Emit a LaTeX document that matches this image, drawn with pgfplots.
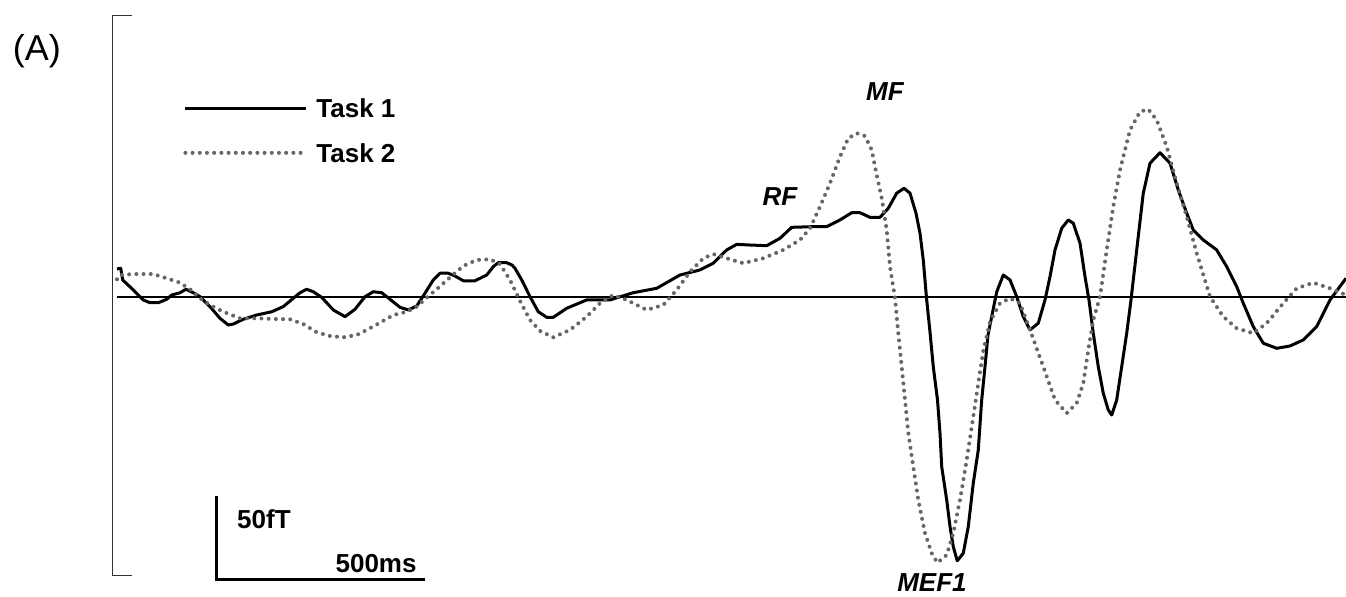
\documentclass[border=0pt]{standalone}
\usepackage{fontspec}
\setmainfont{Liberation Sans}
\usepackage{pgfplots}
\pgfplotsset{compat=1.18}
\newcommand{\lab}{\fontsize{13}{15}\selectfont\bfseries\itshape}
\newcommand{\bl}{\fontsize{13}{15}\selectfont\bfseries}
\begin{document}
\begin{tikzpicture}
\begin{axis}[
  width=673pt, height=298.5pt, scale only axis,
  xmin=-283.1, xmax=2974.2, ymin=-183, ymax=181.17,
  hide axis, clip=false,
  legend image code/.code={\draw[#1] (0pt,0pt) -- (60.5pt,0pt);},
  legend cell align=left,
  legend style={at={(axis cs:159.7,101.6)}, anchor=west, draw=none, fill=none,
    inner sep=0pt, row sep=11pt, column sep=3pt,
    font=\bl, nodes={inner sep=1pt, text depth=0pt}},
]
% baseline
\addplot[black, line width=0.6pt, forget plot] coordinates {(0,0) (2974.2,0)};
% Task 1 (solid)
\addplot[black, line width=1.5pt, line join=round] coordinates {
(0,17.1) (9.0,17.5) (13.8,10.4) (39.4,4.3) (63.6,-1.8) (79.9,-3.5) (99.9,-3.5)
(120.3,-1.4) (132.4,1.2) (152.5,2.6) (167.0,4.7) (184.6,2.6) (200.9,0.2)
(225.1,-5.9) (249.3,-13.0) (269.3,-17.1) (281.4,-16.5) (305.6,-13.6) (338.1,-11.0)
(374.4,-9.0) (402.4,-5.9) (426.6,-0.8) (442.9,2.6) (459.1,4.7) (475.0,3.2)
(495.4,-0.2) (523.4,-7.9) (551.8,-12.0) (576.0,-7.5) (600.2,0.2) (620.2,3.2)
(640.6,2.6) (660.7,-1.4) (684.9,-6.3) (705.0,-7.9) (725.3,-5.5) (745.4,2.3)
(765.4,10.4) (781.7,14.5) (801.7,14.5) (818.0,12.8) (838.0,9.9) (866.4,9.9)
(894.7,13.4) (910.6,18.5) (922.7,20.9) (943.1,20.9) (955.9,19.5) (963.2,17.5)
(979.4,10.4) (999.5,0.2) (1019.5,-9.0) (1039.9,-12.4) (1055.8,-12.4) (1088.3,-6.9)
(1136.7,-1.8) (1193.1,-1.8) (1249.4,2.6) (1306.1,5.3) (1362.5,13.4) (1410.9,16.5)
(1443.0,20.6) (1475.5,28.7) (1499.7,32.1) (1531.9,31.7) (1572.3,31.3) (1604.5,35.8)
(1632.8,42.5) (1685.0,42.9) (1717.5,42.9) (1749.7,47.0) (1778.0,51.4) (1798.1,51.4)
(1822.3,48.6) (1846.5,48.6) (1866.5,54.1) (1886.9,63.3) (1904.5,66.3) (1919.1,63.3)
(1933.6,51.1) (1943.3,38.9) (1951.2,22.6) (1959.0,-0.6) (1967.5,-21.4) (1975.4,-42.5)
(1985.6,-62.8) (1991.7,-83.1) (1995.8,-103.5) (2007.9,-123.8) (2015.9,-140.1)
(2023.8,-152.3) (2033.5,-160.9) (2048.0,-156.3) (2060.1,-140.1) (2072.2,-113.6)
(2084.3,-93.3) (2092.6,-62.8) (2100.6,-42.5) (2107.8,-23.2) (2116.8,-12.0)
(2128.9,3.1) (2144.8,13.4) (2161.1,10.4) (2177.3,0.2) (2193.2,-12.0) (2209.5,-20.1)
(2229.5,-16.0) (2245.8,-1.8) (2257.9,12.4) (2270.0,28.7) (2286.2,41.9) (2302.1,47.0)
(2314.2,45.0) (2330.5,32.8) (2342.6,12.4) (2352.2,-1.8) (2362.6,-22.1) (2374.7,-42.5)
(2386.8,-58.7) (2398.9,-68.9) (2407.2,-72.0) (2419.3,-62.8) (2431.4,-42.5)
(2443.5,-22.1) (2453.9,-1.8) (2467.7,28.7) (2483.6,63.3) (2499.9,81.6) (2524.1,88.0)
(2548.3,81.6) (2568.3,65.3) (2588.7,51.1) (2604.6,40.9) (2628.8,34.8) (2661.3,28.7)
(2685.5,18.5) (2709.7,6.3) (2725.6,-3.8) (2749.8,-18.1) (2774.0,-28.2) (2806.5,-31.3)
(2838.7,-29.9) (2870.8,-26.2) (2903.3,-18.1) (2935.5,-1.8) (2974.2,11.4)
};
\addlegendentry{Task 1}
% Task 2 (dotted)
\addplot[color=black!60, line width=2pt, line cap=round, dash pattern=on 0pt off 3.6pt] coordinates {
(0,10.8) (7.3,13.4) (39.4,14.0) (87.8,14.0) (120.3,11.4) (152.5,8.7) (176.7,4.7)
(200.9,-0.8) (225.1,-4.9) (257.2,-9.0) (297.7,-13.0) (338.1,-13.0) (378.2,-13.4)
(418.7,-13.6) (450.8,-16.5) (483.3,-21.5) (515.5,-23.8) (547.6,-24.6) (580.1,-23.2)
(604.3,-20.1) (636.5,-15.7) (668.6,-11.0) (701.1,-9.0) (725.3,-5.9) (749.5,-0.4)
(773.7,4.7) (805.9,12.0) (838.0,18.9) (870.5,22.6) (902.7,23.0) (926.9,20.1)
(951.1,10.4) (975.3,-2.4) (999.5,-14.0) (1023.7,-20.7) (1055.8,-24.6) (1096.3,-20.1)
(1136.7,-12.0) (1168.9,-3.8) (1201.0,1.2) (1233.5,-1.8) (1281.9,-7.9) (1322.0,-4.9)
(1354.5,4.3) (1386.7,15.4) (1418.8,23.6) (1443.0,26.2) (1475.5,23.6) (1515.6,20.6)
(1564.0,23.6) (1612.4,28.7) (1652.9,34.8) (1677.1,41.9) (1701.3,55.1) (1725.5,69.4)
(1749.7,85.6) (1769.7,96.8) (1790.1,99.9) (1810.2,98.2) (1826.4,89.7) (1838.5,74.4)
(1850.6,60.4) (1862.7,40.9) (1870.7,18.5) (1882.8,-0.6) (1890.7,-22.1) (1899.0,-42.5)
(1907.0,-62.8) (1915.0,-83.1) (1927.0,-103.5) (1939.1,-123.8) (1955.4,-144.1)
(1971.6,-156.3) (1985.1,-162.1) (2007.9,-157.4) (2023.8,-144.1) (2040.1,-123.8)
(2056.3,-99.4) (2072.2,-73.0) (2084.3,-52.6) (2096.4,-32.9) (2112.7,-15.1)
(2136.9,-3.8) (2161.1,-0.8) (2185.3,-3.8) (2209.5,-20.1) (2241.6,-42.5) (2270.0,-62.8)
(2298.3,-70.9) (2322.5,-64.8) (2338.4,-52.6) (2350.5,-32.3) (2362.6,-14.0) (2378.9,0.2)
(2395.1,28.7) (2411.0,55.1) (2427.3,77.5) (2451.5,101.9) (2475.7,113.0) (2495.7,114.5)
(2516.1,108.0) (2540.3,91.7) (2564.5,69.4) (2588.7,49.0) (2612.9,26.7) (2645.1,0.2)
(2677.2,-12.0) (2709.7,-19.1) (2749.8,-22.1) (2782.3,-16.0) (2822.4,-3.8) (2854.9,5.3)
(2895.0,8.7) (2935.5,5.3) (2974.2,1.2)
};
\addlegendentry{Task 2}
% left bracket
\draw[black!80, line width=0.5pt] (axis cs:36.3,172.0) -- (axis cs:-10.4,172.0) -- (axis cs:-10.4,-169.6) -- (axis cs:36.3,-169.6);
% scale bar
\draw[black, line width=1.5pt, line cap=rect] (axis cs:242,-122.6) -- (axis cs:242,-172.6) -- (axis cs:742,-172.6);
\node[anchor=west, inner sep=0pt, font=\bl] at (axis cs:290,-135.4) {50fT};
\node[anchor=east, inner sep=0pt, font=\bl] at (axis cs:726,-162.3) {500ms};
% labels
\node[font=\fontsize{18}{20}\selectfont] at (axis cs:-193.6,150.1) {(A)};
\node[font=\lab] at (axis cs:1858.6,125.1) {MF};
\node[font=\lab] at (axis cs:1604.5,61) {RF};
\node[font=\lab] at (axis cs:1972.3,-173.9) {MEF1};
\end{axis}
\pgfresetboundingbox
\path[use as bounding box] (current axis.south west) rectangle (current axis.north east);
\end{tikzpicture}
\end{document}
